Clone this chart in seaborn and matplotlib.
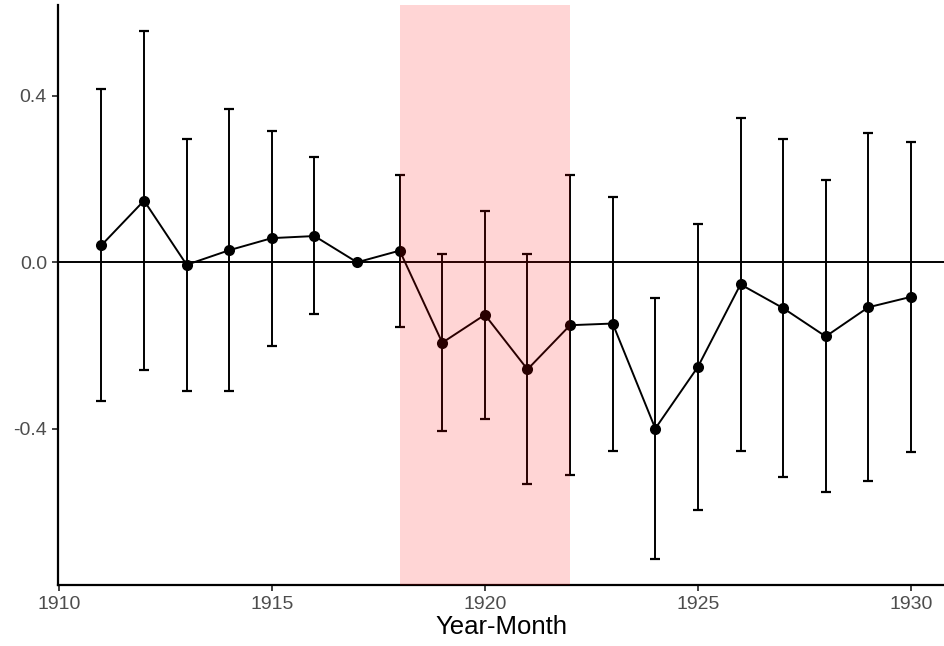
import numpy as np
import pandas as pd
import matplotlib
matplotlib.use("Agg")
import matplotlib.pyplot as plt
import seaborn as sns

# === Data ===
years = [1911, 1912, 1913, 1914, 1915, 1916, 1917, 1918, 1919, 1920,
         1921, 1922, 1923, 1924, 1925, 1926, 1927, 1928, 1929, 1930]
estimate = [0.041, 0.148, -0.006, 0.029, 0.058, 0.063, 0.0, 0.028, -0.193, -0.126,
            -0.257, -0.151, -0.147, -0.399, -0.251, -0.053, -0.110, -0.178, -0.108, -0.083]
ci_low = [-0.333, -0.259, -0.309, -0.309, -0.200, -0.125, 0.0, -0.155, -0.406, -0.376,
          -0.533, -0.510, -0.454, -0.712, -0.594, -0.452, -0.515, -0.552, -0.526, -0.455]
ci_high = [0.415, 0.555, 0.296, 0.367, 0.315, 0.253, 0.0, 0.210, 0.021, 0.123,
           0.019, 0.209, 0.157, -0.086, 0.092, 0.346, 0.296, 0.198, 0.310, 0.288]
shade_start, shade_end = 1918, 1922

df = pd.DataFrame({"year": years, "est": estimate, "lo": ci_low, "hi": ci_high})

sns.set_theme(style="ticks")
plt.rcParams["font.family"] = ["Liberation Sans", "DejaVu Sans"]
plt.rcParams["axes.unicode_minus"] = False

fig = plt.figure(figsize=(9.45, 6.46), dpi=100)
ax = fig.add_axes([58 / 945, 1 - 585 / 646, 1 - 58 / 945, (585 - 5) / 646])

# error bars (skip the reference year, which has zero width)
eb = df[df["hi"] > df["lo"]]
ax.errorbar(eb["year"], eb["est"],
            yerr=[eb["est"] - eb["lo"], eb["hi"] - eb["est"]],
            fmt="none", ecolor="black", elinewidth=1.4, capsize=3.6, capthick=1.6, zorder=2)

ax.axhline(0, color="black", lw=1.4, zorder=1)

sns.lineplot(data=df, x="year", y="est", color="black", lw=1.4,
             marker="o", markersize=8, markeredgewidth=0, ax=ax, zorder=3)

# highlighted period drawn on top
ax.axvspan(shade_start, shade_end, color="red", alpha=0.165, lw=0, zorder=4)

ax.set_xlim(1909.98, 1930.8)
ax.set_ylim(-0.7745, 0.6175)
ax.set_xticks([1910, 1915, 1920, 1925, 1930])
ax.set_yticks([-0.4, 0.0, 0.4])
ax.set_yticklabels(["-0.4", "0.0", "0.4"])

ax.set_xlabel("Year-Month", fontsize=18.5, color="black", labelpad=1)
ax.set_ylabel("")

sns.despine(ax=ax)
for side in ["left", "bottom"]:
    ax.spines[side].set_linewidth(1.6)
    ax.spines[side].set_color("black")
ax.tick_params(axis="both", labelsize=14, labelcolor="#4D4D4D", color="#333333",
               length=4, width=1.3, pad=4)

fig.savefig("out.png", dpi=100)
